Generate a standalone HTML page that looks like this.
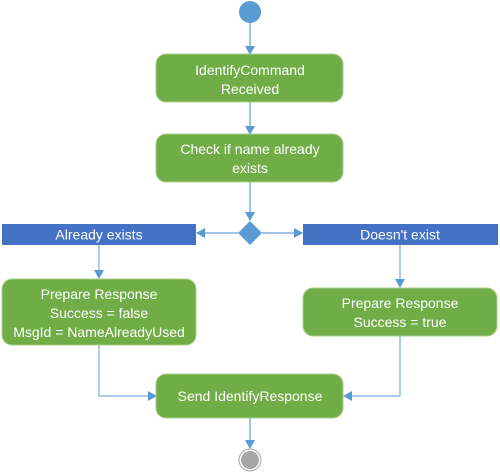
<!DOCTYPE html>
<html><head><style>
html,body{margin:0;padding:0;background:#fff;}
svg{display:block;}
text{font-family:"Liberation Sans",sans-serif;font-size:14px;fill:#fff;text-anchor:middle;}
</style></head><body>
<svg width="500" height="473" viewBox="0 0 500 473">
<defs>
<marker id="a" markerWidth="10" markerHeight="10" refX="8" refY="5" orient="auto" markerUnits="userSpaceOnUse">
<path d="M0,0 L9,5 L0,10 z" fill="#5b9bd5"/></marker>
</defs>
<g stroke="#9dc3e6" stroke-width="2" fill="none">
<line x1="250" y1="23" x2="250" y2="54" marker-end="url(#a)"/>
<line x1="250" y1="102" x2="250" y2="134" marker-end="url(#a)"/>
<line x1="250" y1="182" x2="250" y2="220" marker-end="url(#a)"/>
<line x1="250" y1="418" x2="250" y2="448" marker-end="url(#a)"/>
<line x1="238" y1="233" x2="197" y2="233" marker-end="url(#a)"/>
<line x1="262" y1="233" x2="302" y2="233" marker-end="url(#a)"/>
</g>
<g stroke="#5b9bd5" stroke-width="1" fill="none">
<line x1="99" y1="245" x2="99" y2="278" marker-end="url(#a)"/>
<line x1="400" y1="245" x2="400" y2="287" marker-end="url(#a)"/>
<polyline points="99,345 99,396 156,396" marker-end="url(#a)"/>
<polyline points="400,336 400,396 344,396" marker-end="url(#a)"/>
</g>
<circle cx="250" cy="12" r="11" fill="#5b9bd5"/>
<rect x="156" y="54" width="187" height="48" rx="10" fill="#70ad47" stroke="#a9d18e" stroke-width="1"/>
<text x="250" y="75">IdentifyCommand</text>
<text x="250" y="94">Received</text>
<rect x="156" y="134" width="187" height="48" rx="10" fill="#70ad47" stroke="#a9d18e" stroke-width="1"/>
<text x="250" y="154">Check if name already</text>
<text x="250" y="173">exists</text>
<path d="M250,221 L262,233 L250,245 L238,233 z" fill="#5b9bd5"/>
<rect x="2" y="224" width="194" height="21" fill="#4472c4"/>
<text x="99" y="239.5">Already exists</text>
<rect x="303" y="224" width="195" height="21" fill="#4472c4"/>
<text x="400" y="239.5">Doesn't exist</text>
<rect x="2" y="279" width="194" height="66" rx="10" fill="#70ad47" stroke="#a9d18e" stroke-width="1"/>
<text x="99" y="299">Prepare Response</text>
<text x="99" y="318">Success = false</text>
<text x="99" y="337">MsgId = NameAlreadyUsed</text>
<rect x="303" y="288" width="194" height="48" rx="10" fill="#70ad47" stroke="#a9d18e" stroke-width="1"/>
<text x="400" y="308">Prepare Response</text>
<text x="400" y="327">Success = true</text>
<rect x="156" y="374" width="187" height="44" rx="10" fill="#70ad47" stroke="#a9d18e" stroke-width="1"/>
<text x="250" y="401">Send IdentifyResponse</text>
<circle cx="250" cy="460" r="11" fill="#fff" stroke="#a6a6a6" stroke-width="1"/>
<circle cx="250" cy="460" r="9" fill="#a6a6a6"/>
</svg>
</body></html>
